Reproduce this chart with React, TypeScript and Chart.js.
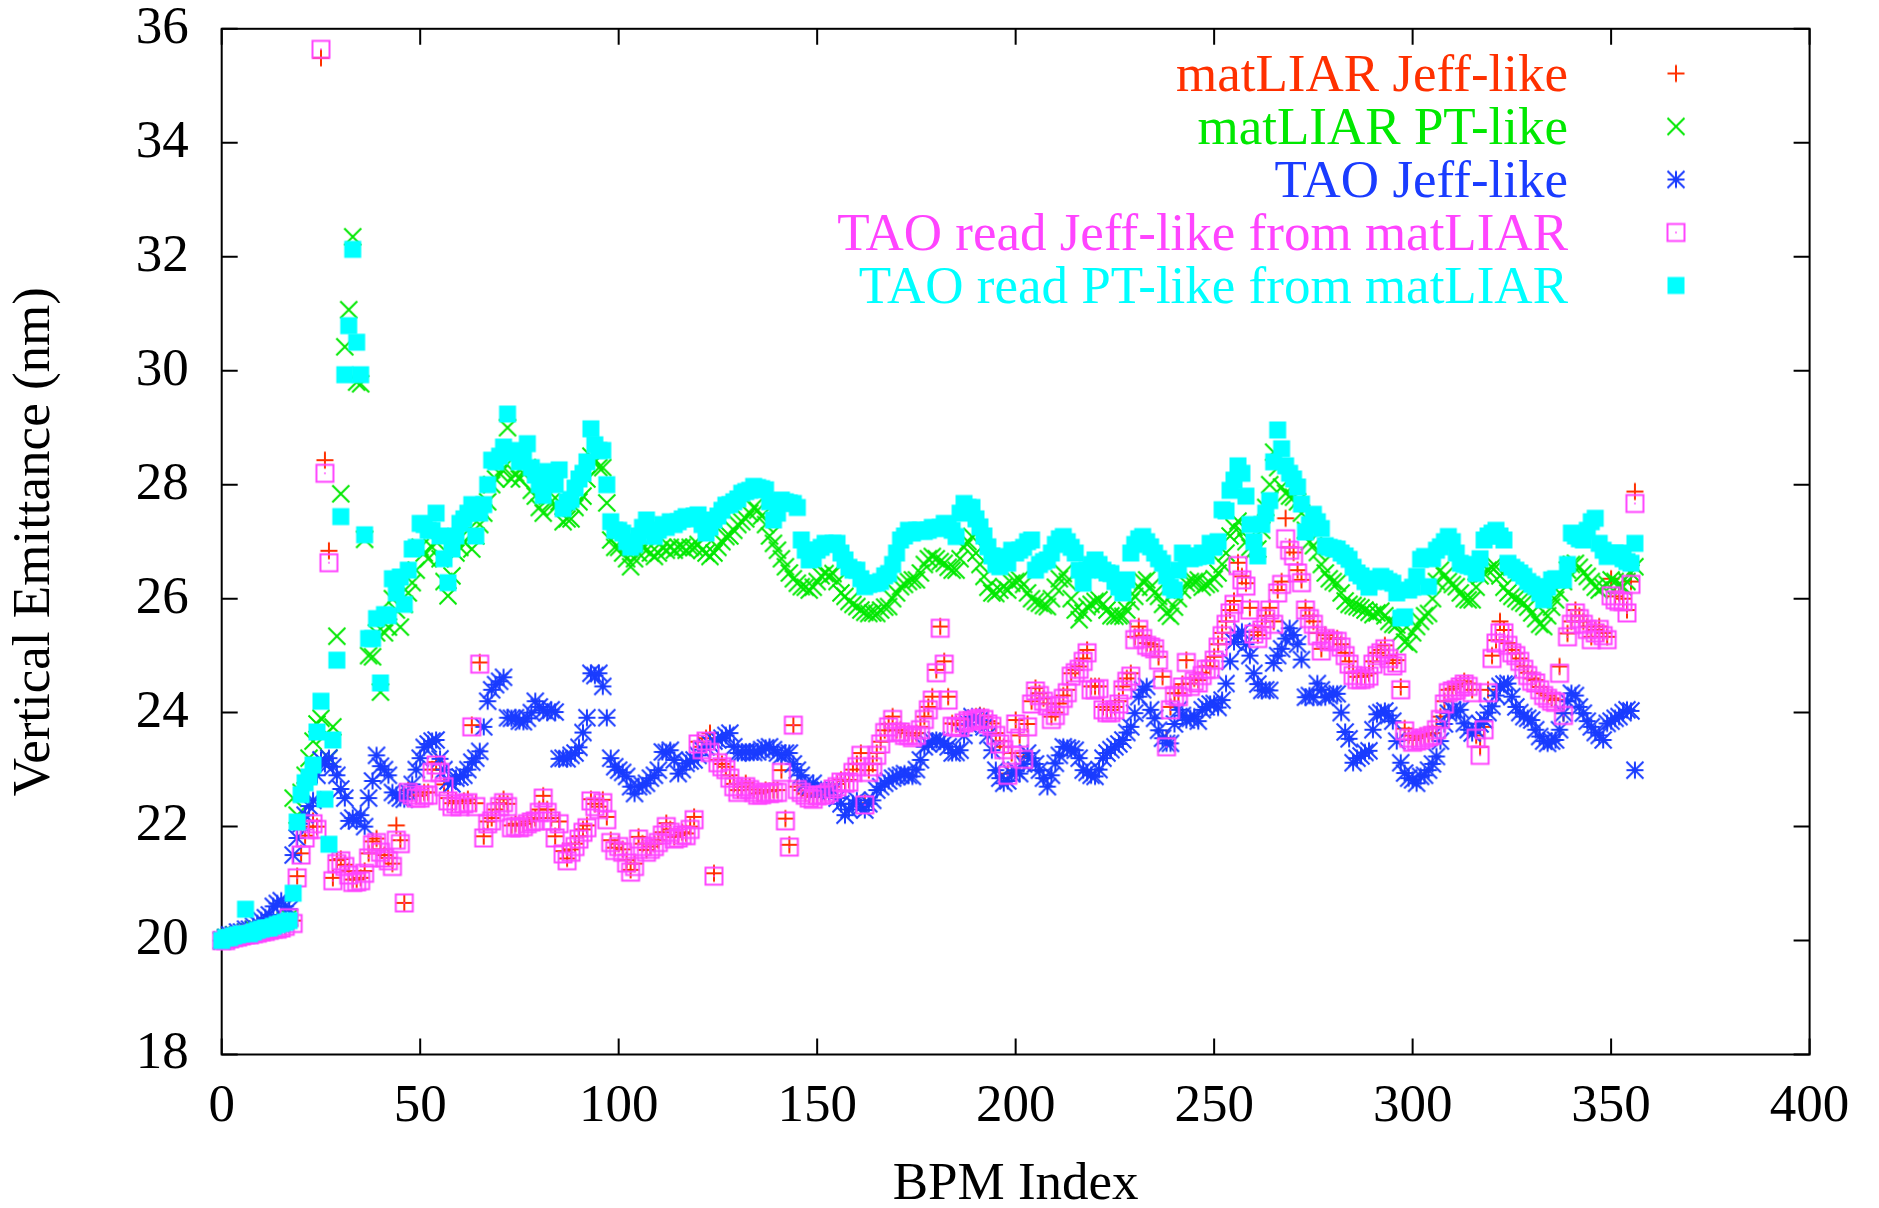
import React, { useEffect, useRef } from 'react';
import { Chart, registerables } from 'chart.js';

Chart.register(...registerables);

const seriesLabels = [
  'matLIAR Jeff-like',
  'matLIAR PT-like',
  'TAO Jeff-like',
  'TAO read Jeff-like from matLIAR',
  'TAO read PT-like from matLIAR',
];
const seriesColors = ['#ff3000', '#00e800', '#1a3cff', '#ff44ff', '#00ffff'];
const markerKinds = ['plus', 'cross', 'star', 'box', 'fbox'];

const xAxisTitle = 'BPM Index';
const yAxisTitle = 'Vertical Emittance (nm)';

// matLIAR Jeff-like (red +)
const matliarJeff = [
  20.00, 20.02, 20.05, 20.05, 20.08, 20.10, 20.10, 20.12, 20.12, 20.15,
  20.15, 20.18, 20.20, 20.20, 20.22, 20.25, 20.25, 20.28, 20.35, 21.13,
  21.53, 21.84, 22.00, 22.10, 22.00, 35.49, 28.43, 26.84, 21.10, 21.41,
  21.43, 21.33, 21.22, 21.07, 21.07, 21.10, 21.22, 21.53, 21.74, 21.79,
  21.60, 21.50, 21.45, 21.35, 22.02, 21.76, 20.66, 22.64, 22.60, 22.54,
  22.55, 22.60, 22.60, 23.00, 23.13, 23.00, 22.74, 22.50, 22.41, 22.45,
  22.41, 22.45, 22.48, 23.78, 22.41, 24.88, 21.83, 22.09, 22.15, 22.30,
  22.41, 22.48, 22.40, 22.02, 22.05, 22.02, 22.05, 22.09, 22.12, 22.15,
  22.30, 22.54, 22.30, 22.15, 21.83, 22.09, 21.57, 21.44, 21.60, 21.70,
  21.83, 21.95, 22.02, 22.48, 22.40, 22.35, 22.47, 22.17, 21.76, 21.63,
  21.70, 21.60, 21.41, 21.24, 21.35, 21.82, 21.70, 21.59, 21.65, 21.70,
  21.76, 21.90, 22.06, 21.95, 21.82, 21.85, 21.90, 21.88, 22.00, 22.17,
  23.49, 23.40, 23.55, 23.64, 21.18, 23.17, 23.10, 23.05, 22.90, 22.75,
  22.64, 22.70, 22.76, 22.70, 22.65, 22.58, 22.60, 22.64, 22.62, 22.64,
  22.64, 22.99, 22.14, 21.68, 23.78, 22.70, 22.64, 22.58, 22.55, 22.52,
  22.58, 22.58, 22.60, 22.65, 22.70, 22.75, 22.82, 22.80, 22.82, 23.00,
  23.10, 23.29, 22.41, 22.99, 23.10, 23.29, 23.49, 23.69, 23.80, 23.93,
  23.69, 23.70, 23.65, 23.64, 23.60, 23.64, 23.75, 23.93, 24.10, 24.28,
  24.75, 25.51, 24.90, 24.28, 23.81, 23.80, 23.78, 23.87, 23.90, 23.90,
  23.93, 23.95, 23.93, 23.85, 23.81, 23.64, 23.50, 23.40, 22.93, 23.29,
  23.87, 23.60, 23.23, 23.80, 24.20, 24.43, 24.34, 24.25, 24.16, 23.93,
  24.00, 24.16, 24.30, 24.40, 24.69, 24.75, 24.81, 24.95, 25.10, 24.46,
  24.46, 24.46, 24.10, 24.05, 24.05, 24.10, 24.20, 24.46, 24.60, 24.69,
  25.33, 25.51, 25.35, 25.22, 25.20, 25.16, 24.98, 24.63, 23.55, 24.10,
  24.34, 24.34, 24.50, 24.92, 24.51, 24.60, 24.57, 24.70, 24.81, 24.81,
  24.98, 25.20, 25.40, 25.60, 25.80, 25.96, 26.63, 26.39, 26.27, 25.84,
  25.42, 25.36, 25.50, 25.70, 25.84, 25.60, 26.15, 26.30, 27.41, 26.90,
  26.81, 26.50, 26.33, 25.84, 25.70, 25.60, 25.40, 25.12, 25.36, 25.30,
  25.30, 25.30, 25.20, 25.05, 24.90, 24.70, 24.63, 24.63, 24.65, 24.69,
  24.90, 25.05, 25.10, 25.18, 25.00, 24.87, 24.92, 24.45, 23.72, 23.60,
  23.52, 23.55, 23.58, 23.60, 23.62, 23.64, 23.75, 23.93, 24.20, 24.40,
  24.42, 24.46, 24.50, 24.55, 24.51, 24.40, 23.60, 23.40, 23.75, 24.40,
  25.00, 25.27, 25.60, 25.45, 25.22, 25.10, 25.04, 24.95, 24.81, 24.70,
  24.60, 24.57, 24.45, 24.34, 24.30, 24.25, 24.22, 24.81, 23.99, 25.39,
  25.60, 25.80, 25.70, 25.60, 25.51, 25.33, 25.45, 25.51, 25.40, 25.33,
  26.35, 26.04, 26.10, 26.00, 25.80, 26.30, 27.88,
];

// matLIAR PT-like (green x)
const matliarPT = [
  20.00, 20.05, 20.05, 20.10, 20.10, 20.10, 20.15, 20.15, 20.20, 20.20,
  20.20, 20.25, 20.25, 20.30, 20.30, 20.30, 20.35, 20.40, 22.50, 22.20,
  22.60, 22.90, 23.20, 23.50, 23.80, 23.90, 23.60, 23.20, 23.75, 25.34,
  27.84, 30.42, 31.07, 32.35, 29.80, 29.77, 27.04, 25.00, 24.98, 25.40,
  24.36, 25.40, 25.50, 26.00, 25.80, 25.50, 25.90, 26.10, 26.28, 26.50,
  26.90, 26.80, 26.70, 26.90, 27.00, 26.70, 26.30, 26.05, 26.40, 26.80,
  26.90, 27.00, 27.20, 26.87, 27.10, 27.30, 27.50, 27.70, 28.00, 28.10,
  28.20, 28.30, 29.00, 28.10, 28.20, 28.10, 28.20, 28.30, 27.90, 27.80,
  27.60, 27.50, 27.80, 27.70, 27.60, 27.70, 27.35, 27.40, 27.40, 27.60,
  27.70, 27.80, 28.10, 28.50, 28.40, 28.30, 28.30, 27.68, 27.03, 26.90,
  26.90, 26.80, 26.70, 26.56, 26.70, 26.80, 26.90, 26.85, 26.80, 26.74,
  26.80, 26.90, 26.85, 26.90, 26.85, 26.90, 26.90, 26.85, 26.90, 26.90,
  26.95, 26.85, 26.80, 26.74, 26.80, 26.90, 27.00, 27.09, 27.10, 27.20,
  27.30, 27.35, 27.40, 27.50, 27.60, 27.55, 27.45, 27.30, 27.10, 26.97,
  26.85, 26.70, 26.56, 26.45, 26.35, 26.27, 26.21, 26.20, 26.15, 26.20,
  26.30, 26.40, 26.44, 26.40, 26.44, 26.30, 26.10, 26.04, 25.95, 25.90,
  25.86, 25.80, 25.76, 25.74, 25.75, 25.74, 25.80, 25.85, 25.86, 26.00,
  26.10, 26.21, 26.25, 26.30, 26.33, 26.33, 26.45, 26.60, 26.70, 26.74,
  26.70, 26.65, 26.62, 26.55, 26.50, 26.50, 26.70, 26.90, 27.00, 27.09,
  26.80, 26.60, 26.39, 26.20, 26.10, 26.09, 26.15, 26.21, 26.15, 26.27,
  26.30, 26.33, 26.25, 26.10, 26.00, 25.95, 25.92, 25.88, 25.86, 26.00,
  26.20, 26.35, 26.44, 26.30, 26.00, 25.80, 25.63, 25.75, 25.86, 25.90,
  25.95, 25.98, 25.90, 25.80, 25.70, 25.69, 25.70, 25.69, 25.80, 25.95,
  26.04, 26.20, 26.30, 26.33, 26.20, 26.10, 26.04, 25.90, 25.75, 25.69,
  25.85, 26.00, 26.15, 26.27, 26.30, 26.30, 26.33, 26.20, 26.25, 26.27,
  26.35, 26.45, 26.60, 26.80, 27.10, 27.25, 27.36, 27.17, 27.00, 26.90,
  26.85, 26.87, 27.20, 27.60, 28.00, 28.57, 28.30, 27.96, 27.85, 27.80,
  27.78, 27.70, 27.50, 27.20, 27.00, 26.93, 26.81, 26.60, 26.45, 26.35,
  26.30, 26.27, 26.10, 25.96, 25.90, 25.88, 25.86, 25.84, 25.80, 25.76,
  25.72, 25.75, 25.78, 25.70, 25.60, 25.55, 25.54, 25.40, 25.24, 25.20,
  25.40, 25.51, 25.60, 25.70, 25.74, 26.00, 26.30, 26.50, 26.40, 26.30,
  26.25, 26.21, 26.10, 26.00, 25.98, 25.98, 26.20, 26.40, 26.44, 26.50,
  26.55, 26.56, 26.40, 26.20, 26.10, 26.04, 26.00, 25.95, 25.92, 25.85,
  25.75, 25.65, 25.55, 25.51, 25.70, 25.85, 25.98, 26.10, 26.30, 26.50,
  26.60, 26.62, 26.55, 26.45, 26.39, 26.30, 26.20, 26.15, 26.20, 26.25,
  26.33, 26.30, 26.25, 26.21, 26.30, 26.45, 26.56,
];

// TAO Jeff-like (blue *)
const taoJeff = [
  20.00, 20.05, 20.10, 20.10, 20.15, 20.15, 20.20, 20.20, 20.25, 20.30,
  20.35, 20.40, 20.45, 20.60, 20.65, 20.70, 20.60, 20.55, 21.50, 21.80,
  22.05, 22.20, 22.36, 22.46, 22.90, 23.17, 23.10, 23.20, 23.05, 22.90,
  22.66, 22.50, 22.10, 22.15, 22.10, 22.20, 22.00, 22.50, 22.80, 23.25,
  23.06, 23.00, 22.90, 22.60, 22.55, 22.50, 22.48, 22.60, 22.74, 23.00,
  23.20, 23.39, 23.45, 23.50, 23.52, 23.19, 23.00, 22.80, 22.75, 22.85,
  22.87, 22.90, 23.00, 23.13, 23.20, 23.32, 23.75, 24.20, 24.40, 24.49,
  24.55, 24.62, 23.91, 23.90, 23.91, 23.85, 23.84, 23.90, 24.00, 24.20,
  24.10, 24.04, 24.00, 24.05, 24.01, 23.19, 23.20, 23.19, 23.25, 23.29,
  23.39, 23.65, 23.91, 24.69, 24.65, 24.69, 24.46, 23.91, 23.20, 23.05,
  22.99, 22.95, 22.88, 22.70, 22.58, 22.70, 22.72, 22.76, 22.85, 22.90,
  22.99, 23.31, 23.30, 23.34, 23.17, 22.93, 23.00, 23.11, 23.15, 23.17,
  23.25, 23.35, 23.40, 23.45, 23.50, 23.52, 23.55, 23.60, 23.64, 23.40,
  23.29, 23.30, 23.31, 23.31, 23.30, 23.31, 23.35, 23.38, 23.40, 23.35,
  23.29, 23.25, 23.29, 23.29, 23.10, 22.99, 22.90, 22.76, 22.70, 22.76,
  22.64, 22.65, 22.64, 22.60, 22.64, 22.50, 22.40, 22.20, 22.30, 22.40,
  22.46, 22.35, 22.29, 22.40, 22.46, 22.64, 22.70, 22.76, 22.80, 22.85,
  22.88, 22.90, 22.93, 22.90, 22.88, 23.00, 23.17, 23.40, 23.45, 23.50,
  23.52, 23.50, 23.46, 23.40, 23.29, 23.30, 23.34, 23.60, 23.80, 23.93,
  23.90, 23.87, 23.75, 23.60, 23.34, 22.99, 22.85, 22.76, 22.80, 22.93,
  22.99, 22.93, 23.10, 23.29, 23.20, 23.10, 22.99, 22.85, 22.70, 22.90,
  23.11, 23.25, 23.40, 23.38, 23.36, 23.34, 23.20, 22.99, 22.95, 22.90,
  22.88, 23.00, 23.20, 23.29, 23.35, 23.40, 23.45, 23.52, 23.65, 23.75,
  23.99, 24.28, 24.40, 24.46, 24.05, 23.90, 23.69, 23.55, 23.46, 23.46,
  23.80, 24.05, 23.95, 23.87, 23.90, 23.93, 23.85, 24.05, 24.10, 24.15,
  24.16, 24.09, 24.22, 24.51, 24.90, 25.24, 25.35, 25.42, 25.20, 25.00,
  24.69, 24.50, 24.39, 24.40, 24.39, 24.87, 25.00, 25.12, 25.30, 25.48,
  25.36, 25.20, 24.93, 24.27, 24.30, 24.27, 24.51, 24.40, 24.27, 24.30,
  24.33, 24.33, 24.00, 23.66, 23.54, 23.12, 23.20, 23.24, 23.30, 23.33,
  23.70, 23.97, 24.00, 24.03, 23.95, 23.85, 23.50, 23.12, 22.94, 22.85,
  22.82, 22.76, 22.88, 22.90, 22.99, 23.10, 23.23, 23.50, 23.80, 23.99,
  24.05, 24.02, 24.05, 23.81, 23.70, 23.64, 23.70, 23.80, 23.87, 24.00,
  24.11, 24.30, 24.46, 24.50, 24.51, 24.28, 24.10, 24.00, 23.93, 23.90,
  23.87, 23.70, 23.58, 23.50, 23.46, 23.50, 23.52, 23.70, 23.99, 24.20,
  24.34, 24.30, 24.10, 23.99, 23.85, 23.75, 23.65, 23.60, 23.52, 23.81,
  23.85, 23.90, 23.93, 24.00, 24.05, 24.03, 22.99,
];

// TAO read Jeff-like from matLIAR (magenta open squares)
const taoReadJeff = [
  20.00, 20.00, 20.03, 20.05, 20.06, 20.08, 20.10, 20.10, 20.12, 20.13,
  20.15, 20.16, 20.18, 20.20, 20.20, 20.22, 20.25, 20.40, 20.30, 21.10,
  21.50, 21.80, 21.95, 22.05, 21.95, 35.64, 28.20, 26.63, 21.05, 21.35,
  21.40, 21.30, 21.15, 21.02, 21.03, 21.05, 21.18, 21.45, 21.68, 21.72,
  21.55, 21.45, 21.40, 21.30, 21.76, 21.70, 20.66, 22.60, 22.55, 22.50,
  22.50, 22.55, 22.55, 22.95, 23.08, 22.95, 22.70, 22.45, 22.35, 22.40,
  22.35, 22.40, 22.42, 23.75, 22.35, 24.85, 21.80, 22.05, 22.10, 22.25,
  22.35, 22.42, 22.35, 21.98, 22.00, 21.98, 22.00, 22.05, 22.08, 22.10,
  22.25, 22.50, 22.25, 22.10, 21.80, 22.05, 21.52, 21.40, 21.55, 21.65,
  21.78, 21.90, 21.98, 22.45, 22.35, 22.30, 22.42, 22.12, 21.72, 21.58,
  21.65, 21.55, 21.36, 21.20, 21.30, 21.78, 21.65, 21.55, 21.60, 21.65,
  21.72, 21.85, 22.00, 21.90, 21.78, 21.80, 21.85, 21.84, 21.95, 22.12,
  23.45, 23.35, 23.50, 23.30, 21.13, 23.12, 23.05, 23.00, 22.85, 22.70,
  22.60, 22.65, 22.70, 22.65, 22.60, 22.55, 22.56, 22.60, 22.58, 22.60,
  22.60, 22.95, 22.10, 21.64, 23.78, 22.65, 22.60, 22.55, 22.50, 22.48,
  22.54, 22.55, 22.56, 22.60, 22.66, 22.70, 22.78, 22.76, 22.78, 22.95,
  23.05, 23.25, 22.38, 22.95, 23.05, 23.25, 23.45, 23.65, 23.75, 23.88,
  23.65, 23.66, 23.60, 23.60, 23.56, 23.60, 23.70, 23.88, 24.05, 24.22,
  24.70, 25.48, 24.85, 24.22, 23.76, 23.75, 23.74, 23.82, 23.86, 23.85,
  23.88, 23.90, 23.88, 23.80, 23.76, 23.60, 23.45, 23.35, 22.90, 23.25,
  23.80, 23.55, 23.18, 23.75, 24.15, 24.38, 24.30, 24.20, 24.12, 23.88,
  23.95, 24.12, 24.25, 24.35, 24.64, 24.70, 24.76, 24.90, 25.05, 24.40,
  24.40, 24.42, 24.05, 24.00, 24.00, 24.05, 24.15, 24.40, 24.55, 24.64,
  25.28, 25.46, 25.30, 25.18, 25.15, 25.12, 24.92, 24.58, 23.40, 24.05,
  24.30, 24.28, 24.45, 24.88, 24.46, 24.55, 24.52, 24.65, 24.76, 24.76,
  24.92, 25.15, 25.35, 25.55, 25.75, 25.90, 26.58, 26.33, 26.22, 25.80,
  25.38, 25.30, 25.45, 25.65, 25.80, 25.55, 26.10, 26.25, 27.05, 26.85,
  26.75, 26.45, 26.28, 25.80, 25.65, 25.55, 25.35, 25.08, 25.30, 25.25,
  25.25, 25.25, 25.15, 25.00, 24.85, 24.65, 24.58, 24.58, 24.60, 24.64,
  24.85, 25.00, 25.05, 25.12, 24.95, 24.82, 24.87, 24.40, 23.68, 23.55,
  23.48, 23.50, 23.52, 23.55, 23.58, 23.60, 23.70, 23.88, 24.15, 24.35,
  24.38, 24.40, 24.45, 24.50, 24.46, 24.35, 23.55, 23.25, 23.70, 24.35,
  24.95, 25.22, 25.40, 25.40, 25.18, 25.05, 25.00, 24.90, 24.76, 24.65,
  24.55, 24.52, 24.40, 24.30, 24.25, 24.20, 24.18, 24.69, 23.95, 25.33,
  25.55, 25.75, 25.65, 25.55, 25.46, 25.28, 25.40, 25.46, 25.35, 25.28,
  26.05, 25.98, 25.95, 25.95, 25.75, 26.25, 27.67,
];

// TAO read PT-like from matLIAR (cyan filled squares)
const taoReadPT = [
  20.00, 20.05, 20.05, 20.08, 20.10, 20.12, 20.55, 20.12, 20.15, 20.18,
  20.20, 20.22, 20.22, 20.25, 20.28, 20.30, 20.32, 20.35, 20.83, 22.08,
  22.56, 22.77, 22.87, 23.08, 23.66, 24.20, 22.48, 21.69, 23.52, 24.92,
  27.44, 29.93, 30.79, 32.13, 30.50, 29.93, 27.12, 25.30, 25.30, 25.65,
  24.52, 25.72, 25.70, 26.35, 26.10, 26.38, 25.90, 26.50, 26.87, 26.90,
  27.32, 27.30, 27.20, 27.20, 27.50, 27.10, 26.70, 26.28, 26.87, 27.10,
  27.32, 27.40, 27.50, 27.65, 27.10, 27.50, 27.65, 28.00, 28.43, 28.40,
  28.50, 28.66, 29.24, 28.56, 28.60, 28.40, 28.50, 28.72, 28.30, 28.17,
  28.00, 27.81, 28.23, 28.10, 28.00, 28.26, 27.58, 27.70, 27.74, 27.94,
  28.10, 28.20, 28.40, 28.98, 28.70, 28.60, 28.60, 28.00, 27.35, 27.20,
  27.20, 27.15, 27.00, 26.90, 26.95, 27.10, 27.25, 27.38, 27.20, 27.09,
  27.20, 27.30, 27.25, 27.35, 27.30, 27.35, 27.40, 27.44, 27.40, 27.45,
  27.47, 27.30, 27.15, 27.25, 27.38, 27.45, 27.55, 27.64, 27.65, 27.70,
  27.75, 27.85, 27.88, 27.90, 27.97, 27.95, 27.93, 27.91, 27.70, 27.38,
  27.50, 27.73, 27.70, 27.68, 27.67, 27.60, 27.03, 26.85, 26.68, 26.70,
  26.85, 26.90, 26.97, 26.95, 26.97, 26.97, 26.80, 26.68, 26.55, 26.50,
  26.50, 26.35, 26.21, 26.25, 26.27, 26.27, 26.30, 26.40, 26.44, 26.60,
  26.80, 27.03, 27.10, 27.20, 27.15, 27.20, 27.20, 27.18, 27.20, 27.25,
  27.23, 27.25, 27.32, 27.30, 27.20, 27.09, 27.50, 27.67, 27.60, 27.60,
  27.40, 27.26, 27.10, 26.91, 26.75, 26.60, 26.56, 26.74, 26.62, 26.85,
  26.80, 26.85, 26.90, 27.00, 27.03, 26.50, 26.60, 26.65, 26.68, 26.80,
  26.95, 27.05, 27.09, 27.00, 26.90, 26.80, 26.50, 26.27, 26.50, 26.60,
  26.68, 26.60, 26.50, 26.45, 26.44, 26.30, 26.20, 26.10, 26.33, 26.80,
  26.95, 27.05, 27.09, 27.00, 26.91, 26.80, 26.70, 26.62, 26.40, 26.20,
  26.15, 26.50, 26.80, 26.75, 26.70, 26.72, 26.74, 26.80, 26.75, 26.97,
  26.90, 27.00, 27.56, 27.54, 27.90, 28.08, 28.33, 28.20, 27.80, 27.30,
  27.00, 26.75, 27.30, 27.50, 27.72, 28.40, 28.96, 28.63, 28.33, 28.20,
  28.10, 27.96, 27.66, 27.17, 27.30, 27.48, 27.35, 27.23, 26.93, 26.90,
  26.88, 26.87, 26.80, 26.75, 26.69, 26.55, 26.45, 26.40, 26.30, 26.20,
  26.30, 26.35, 26.39, 26.35, 26.30, 26.27, 26.10, 25.66, 25.68, 26.15,
  26.20, 26.39, 26.69, 26.74, 26.21, 26.70, 26.85, 26.91, 27.00, 27.09,
  27.00, 26.80, 26.62, 26.60, 26.58, 26.56, 26.44, 26.70, 27.03, 27.10,
  27.15, 27.20, 27.10, 27.03, 26.62, 26.55, 26.50, 26.45, 26.39, 26.30,
  26.25, 26.21, 26.10, 25.98, 26.20, 26.33, 26.35, 26.33, 26.33, 26.60,
  27.15, 27.10, 27.05, 27.03, 27.20, 27.35, 27.41, 26.97, 26.85, 26.74,
  26.78, 26.80, 26.80, 26.70, 26.65, 26.62, 26.97,
];

const FONT = '"Liberation Serif", "Times New Roman", serif';

function makeMarker(kind: string, color: string): HTMLCanvasElement {
  const s = 22;
  const c = document.createElement('canvas');
  c.width = s;
  c.height = s;
  const g = c.getContext('2d')!;
  const m = s / 2;
  const r = 8.5;
  g.strokeStyle = color;
  g.fillStyle = color;
  g.lineWidth = 2;
  g.beginPath();
  if (kind === 'plus') {
    g.moveTo(m - r, m); g.lineTo(m + r, m);
    g.moveTo(m, m - r); g.lineTo(m, m + r);
    g.stroke();
  } else if (kind === 'cross') {
    g.moveTo(m - r, m - r); g.lineTo(m + r, m + r);
    g.moveTo(m - r, m + r); g.lineTo(m + r, m - r);
    g.stroke();
  } else if (kind === 'star') {
    g.moveTo(m - r, m); g.lineTo(m + r, m);
    g.moveTo(m, m - r); g.lineTo(m, m + r);
    g.moveTo(m - r, m - r); g.lineTo(m + r, m + r);
    g.moveTo(m - r, m + r); g.lineTo(m + r, m - r);
    g.stroke();
  } else if (kind === 'box') {
    g.rect(m - r, m - r, 2 * r, 2 * r);
    g.stroke();
    g.fillRect(m - 0.8, m - 0.8, 1.6, 1.6);
  } else {
    g.fillRect(m - r, m - r, 2 * r, 2 * r);
  }
  return c;
}

export default function App() {
  const ref = useRef<HTMLCanvasElement>(null);

  useEffect(() => {
    const canvas = ref.current;
    if (!canvas) return;
    const series = [matliarJeff, matliarPT, taoJeff, taoReadJeff, taoReadPT];
    const markers = markerKinds.map((k, i) => makeMarker(k, seriesColors[i]));

    const datasets = series.map((vals, i) => ({
      label: seriesLabels[i],
      data: vals.map((v, j) => ({ x: j, y: v })),
      showLine: false,
      pointStyle: markers[i] as any,
      pointRadius: 9,
      borderColor: seriesColors[i],
      backgroundColor: seriesColors[i],
      order: 5 - i,
      clip: false as any,
    }));

    const framePlugin = {
      id: 'gnuFrame',
      beforeDatasetsDraw(chart: any) {
        const { ctx, chartArea: a, scales } = chart;
        ctx.save();
        ctx.strokeStyle = '#000';
        ctx.lineWidth = 2;
        ctx.strokeRect(a.left, a.top, a.right - a.left, a.bottom - a.top);
        const tl = 16;
        ctx.beginPath();
        for (const t of scales.y.ticks) {
          const y = scales.y.getPixelForValue(t.value);
          ctx.moveTo(a.left, y); ctx.lineTo(a.left + tl, y);
          ctx.moveTo(a.right, y); ctx.lineTo(a.right - tl, y);
        }
        for (const t of scales.x.ticks) {
          const x = scales.x.getPixelForValue(t.value);
          ctx.moveTo(x, a.bottom); ctx.lineTo(x, a.bottom - tl);
          ctx.moveTo(x, a.top); ctx.lineTo(x, a.top + tl);
        }
        ctx.stroke();
        ctx.restore();
      },
    };

    const legendPlugin = {
      id: 'gnuLegend',
      afterDraw(chart: any) {
        const { ctx } = chart;
        ctx.save();
        ctx.font = `53px ${FONT}`;
        ctx.textAlign = 'right';
        ctx.textBaseline = 'alphabetic';
        chart.data.datasets.forEach((ds: any, i: number) => {
          const yMark = 73.5 + 53 * i;
          ctx.fillStyle = seriesColors[i];
          ctx.fillText(ds.label, 1568, yMark + 17.5);
          const mk = markers[i];
          ctx.drawImage(mk, 1676 - mk.width / 2, yMark - mk.height / 2);
        });
        ctx.restore();
      },
    };

    const tickFont = { family: FONT, size: 53, lineHeight: 1 };

    const chart = new Chart(canvas, {
      type: 'scatter',
      data: { datasets: datasets as any },
      options: {
        responsive: false,
        animation: false,
        devicePixelRatio: 1,
        layout: { padding: { top: 28.8, right: 69.4, left: 0, bottom: 0 } },
        plugins: {
          legend: { display: false },
          tooltip: { enabled: false },
          title: { display: false },
        },
        scales: {
          x: {
            type: 'linear',
            position: 'bottom',
            min: 0,
            max: 400,
            ticks: {
              stepSize: 50,
              font: tickFont,
              color: '#000',
              padding: 26,
              maxRotation: 0,
              autoSkip: false,
            },
            grid: { display: false, drawTicks: false },
            border: { display: false },
            title: {
              display: true,
              text: xAxisTitle,
              color: '#000',
              font: tickFont,
              padding: { top: 0, bottom: -4 },
            },
            afterFit: (s: any) => {
              s.height = 153.5;
              s.paddingLeft = 0;
              s.paddingRight = 0;
              s.paddingTop = 0;
              s.paddingBottom = 0;
            },
          },
          y: {
            type: 'linear',
            position: 'left',
            min: 18,
            max: 36,
            ticks: {
              stepSize: 2,
              font: tickFont,
              color: '#000',
              padding: 33,
            },
            grid: { display: false, drawTicks: false },
            border: { display: false },
            title: {
              display: true,
              text: yAxisTitle,
              color: '#000',
              font: tickFont,
              padding: { top: 8.5, bottom: 0 },
            },
            afterFit: (s: any) => {
              s.width = 221.7;
              s.paddingLeft = 0;
              s.paddingRight = 0;
              s.paddingTop = 0;
              s.paddingBottom = 0;
            },
          },
        },
      } as any,
      plugins: [framePlugin, legendPlugin],
    });

    return () => chart.destroy();
  }, []);

  return (
    <div style={{ position: 'absolute', left: 0, top: 0, width: 1879, height: 1208, background: '#fff' }}>
      <canvas ref={ref} width={1879} height={1208} style={{ display: 'block' }} />
    </div>
  );
}
